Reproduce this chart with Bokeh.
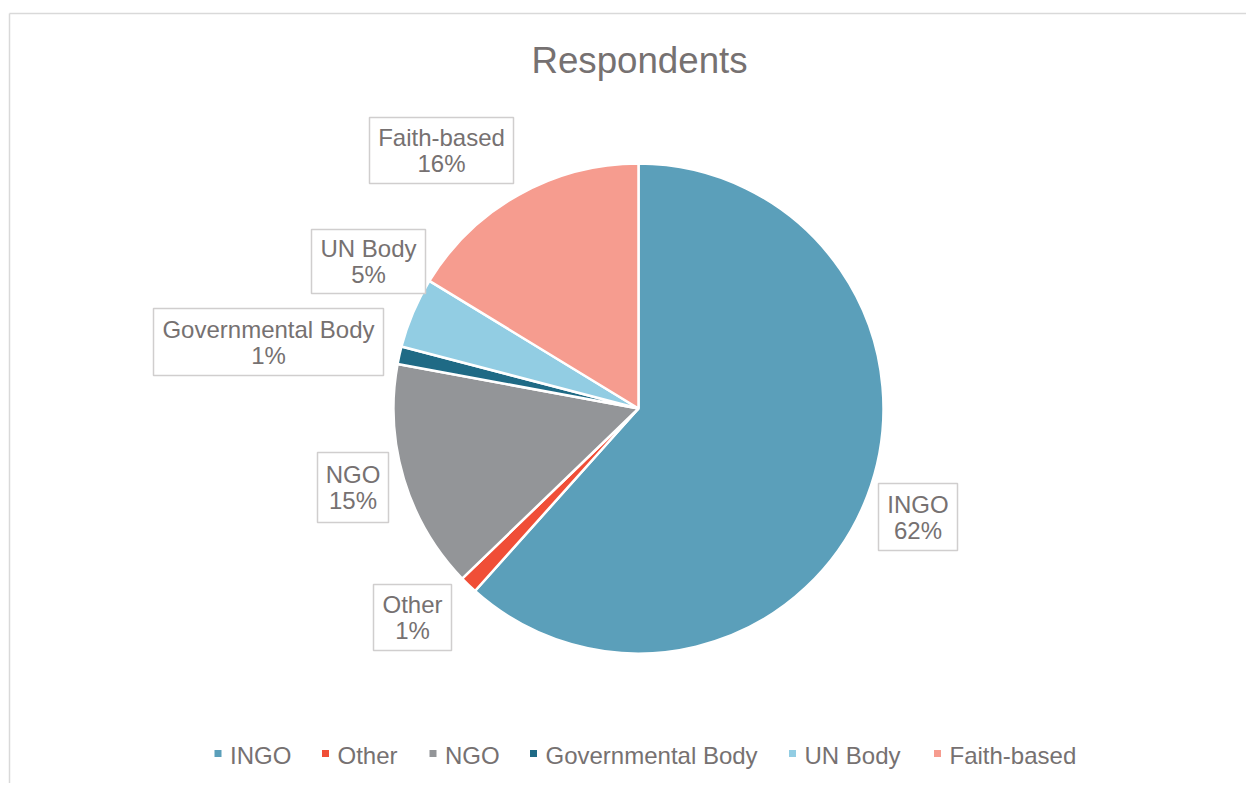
import numpy as np
from bokeh.plotting import figure
from bokeh.models import ColumnDataSource, Range1d
from bokeh.core.properties import value
from bokeh.embed import file_html
from bokeh.resources import INLINE

# ---- data ----
categories = ["INGO", "Other", "NGO", "Governmental Body", "UN Body", "Faith-based"]
counts = [53, 1, 13, 1, 4, 14]
colors = ["#5B9FBA", "#F04E37", "#939598", "#1F6A85", "#92CDE3", "#F69C8F"]
title_text = "Respondents"

# ---- layout (screen px) ----
W, H = 1246, 783
FONT = "Liberation Sans"
TXT = "#767171"
CX, CY, R = 638, 408, 245

# label boxes: centre x, centre y, width, height
box_cx = [917.5, 412, 352.5, 268, 368, 441]
box_cy = [516.5, 617, 487, 341.5, 261, 150]
box_w = [79, 78, 71, 230, 114, 144]
box_h = [67, 66, 70, 67, 64, 66]
# legend marker centres
leg_x = [217.5, 325, 432.5, 533, 792, 937]
LEG_Y = 753

p = figure(width=W, height=H, output_backend="svg", toolbar_location=None,
           x_range=Range1d(0, W), y_range=Range1d(-H, 0),
           min_border=0)
p.axis.visible = False
p.grid.visible = False
p.outline_line_color = None
p.background_fill_color = "white"
p.border_fill_color = "white"

# chart frame (top & left edges visible)
p.segment(x0=[9, 9], y0=[-13, -13], x1=[W, 9], y1=[-13, -H],
          line_color="#D9D9D9", line_width=1.5)

# pie
vals = np.array(counts, dtype=float)
frac = vals / vals.sum()
cum_after = np.cumsum(frac)
cum_before = cum_after - frac
start = np.pi / 2 - 2 * np.pi * cum_after
end = np.pi / 2 - 2 * np.pi * cum_before
src = ColumnDataSource(dict(start=start, end=end, color=colors, cat=categories))
p.wedge(x=CX, y=-CY, radius=R, start_angle="start", end_angle="end",
        fill_color="color", line_color="white", line_width=2.5, source=src)

# data labels
pct = [f"{round(f * 100):.0f}%" for f in frac]
lsrc = ColumnDataSource(dict(
    x=box_cx, y=[-c for c in box_cy], w=box_w, h=box_h,
    y1=[-(c - 13) for c in box_cy], y2=[-(c + 13) for c in box_cy],
    cat=categories, pct=pct))
p.rect(x="x", y="y", width="w", height="h", fill_color="white",
       line_color="#D0CECE", line_width=1.5, source=lsrc)
p.text(x="x", y="y1", text="cat", text_font=value(FONT), text_font_size="24px",
       text_color=TXT, text_align="center", text_baseline="alphabetic", source=lsrc)
p.text(x="x", y="y2", text="pct", text_font=value(FONT), text_font_size="24px",
       text_color=TXT, text_align="center", text_baseline="alphabetic", source=lsrc)

# title
p.text(x=[639], y=[-60], text=[title_text], text_font=value(FONT),
       text_font_size="36.7px", text_color=TXT, text_align="center",
       text_baseline="alphabetic")

# legend
gsrc = ColumnDataSource(dict(x=leg_x, tx=[x + 12 for x in leg_x],
                             y=[-LEG_Y] * len(leg_x), ty=[-755] * len(leg_x),
                             color=colors, cat=categories))
p.scatter(x="x", y="y", marker="square", size=7, fill_color="color",
          line_color=None, source=gsrc)
p.text(x="tx", y="ty", text="cat", text_font=value(FONT), text_font_size="24px",
       text_color=TXT, text_align="left", text_baseline="alphabetic", source=gsrc)

open("out.html", "w").write(file_html(p, INLINE))
